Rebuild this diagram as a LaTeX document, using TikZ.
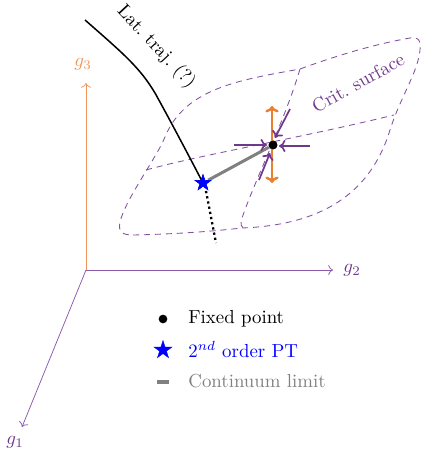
\documentclass[tikz,border=0pt]{standalone}
\usetikzlibrary{shapes.geometric,arrows.meta}
\definecolor{myorange}{RGB}{232,128,48}
\definecolor{mypurple}{RGB}{112,56,140}
\definecolor{axpurple}{RGB}{140,90,170}
\definecolor{axorange}{RGB}{240,150,90}
\definecolor{surfpurple}{RGB}{130,80,160}
\tikzset{
  surf/.style={surfpurple,line width=0.45pt,dash pattern=on 3.2pt off 2.6pt},
  axis/.style={line width=0.4pt,->},
  fpdot/.style={circle,fill=black,inner sep=0pt,minimum size=4.6pt},
  bstar/.style={star,star points=5,star point ratio=2.6,fill=blue,draw=blue,inner sep=0pt,minimum size=9pt,line width=0.2pt},
  flowin/.style={mypurple,line width=0.9pt,-{To[length=3.4pt,width=6.4pt]}},
  flowout/.style={myorange,line width=1.3pt,{To[length=3.4pt,width=7pt]}-{To[length=3.4pt,width=7pt]}},
  legtext/.style={anchor=base west,inner sep=0pt}
}
\begin{document}
\begin{tikzpicture}[x=0.53pt,y=-0.53pt]
\useasboundingbox (0,0) rectangle (421,453);
% axes
\coordinate (O) at (86,270);
\coordinate (G3) at (86,83);
\coordinate (G2) at (333,270);
\coordinate (G1) at (22,427);
\draw[axis,axorange] (O) -- (G3);
\draw[axis,axpurple] (O) -- (G2);
\draw[axis,axpurple] (O) -- (G1);
\node[axorange] (l3) at (83,64) {$g_3$};
\node[mypurple] (l2) at (352,270) {$g_2$};
\node[mypurple] (l1) at (15,442) {$g_1$};
% critical surface
\draw[surf] (133,235) .. controls (180,234) and (215,231) .. (242,228)
  .. controls (320,225) and (370,195) .. (390,130)
  .. controls (400,98) and (418,72) .. (420,50)
  .. controls (421,40) and (418,36) .. (410,38)
  .. controls (370,45) and (330,58) .. (300,69)
  .. controls (240,80) and (185,88) .. (165,137)
  .. controls (157,157) and (125,200) .. (120,222)
  .. controls (118,232) and (122,235) .. (133,235);
\draw[surf] (300,69) .. controls (285,120) and (255,180) .. (242,218)
  .. controls (240,225) and (241,228) .. (246,228);
\draw[surf] (146,170) .. controls (200,155) and (300,138) .. (394,115);
\node[mypurple,rotate=29] (cs) at (358,83) {Crit.\ surface};
% nodes
\node[fpdot] (fp) at (273,145) {};
\node[bstar] (st) at (203,183) {};
% trajectory
\coordinate (t0) at (85,20);
\draw[line width=0.8pt] (t0) .. controls (125,55) and (140,68) .. (155,93)
  .. controls (170,120) and (190,158) .. (st.center);
\node[rotate=-47] (lt) at (156,47) {Lat.\ traj.\ (?)};
\coordinate (d0) at (206,191);
\coordinate (d1) at (216,243);
\draw[line width=1.2pt,dash pattern=on 1.2pt off 1.6pt] (d0) -- (d1);
% continuum limit
\draw[gray,line width=1.6pt] (st) -- (fp);
% flows
\coordinate (ou) at (272,106);
\coordinate (od) at (272,183);
\draw[flowout] (ou) -- (od);
\coordinate (il) at (234,145);
\coordinate (ir) at (310,146);
\coordinate (iu) at (290,109);
\coordinate (id) at (259,180);
\draw[flowin] (il) -- (267,145);
\draw[flowin] (ir) -- (279,146);
\draw[flowin] (iu) -- (275,138);
\draw[flowin] (id) -- (270,153);
\node[fpdot] at (fp) {};
\node[bstar] at (st) {};
% legend
\node[fpdot] (lgdot) at (163,319) {};
\node[legtext] (lgt1) at (188,323) {Fixed point};
\node[bstar,minimum size=10pt] (lgstar) at (163,350) {};
\node[legtext,blue] (lgt2) at (188,357) {$2^{nd}$ order PT};
\coordinate (lg3a) at (157,382);
\coordinate (lg3b) at (169,382);
\draw[gray,line width=1.9pt] (lg3a) -- (lg3b);
\node[legtext,gray] (lgt3) at (188,387) {Continuum limit};
\end{tikzpicture}
\end{document}
